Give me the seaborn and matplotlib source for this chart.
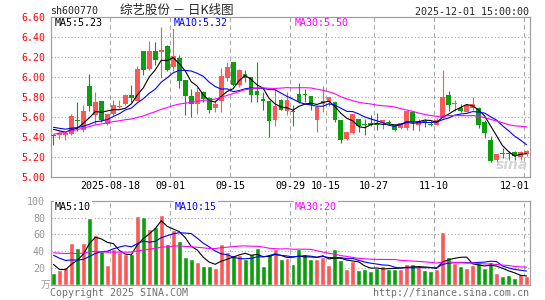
import numpy as np
import pandas as pd
import matplotlib
matplotlib.use("Agg")
import matplotlib.pyplot as plt
import seaborn as sns

# daily bars sh600770, 2025-08-04 .. 2025-12-01 (80 trading days)
open_ = [5.42, 5.42, 5.42, 5.43, 5.57, 5.47, 5.91, 5.62, 5.76, 5.53,
         5.63, 5.70, 5.73, 5.82, 5.76, 6.26, 6.08, 6.26, 6.25, 6.31,
         6.10, 6.19, 5.97, 5.81, 5.73, 5.85, 5.79, 5.69, 5.76, 5.99,
         6.15, 5.92, 6.03, 6.00, 5.86, 5.78, 5.76, 5.57, 5.77, 5.66,
         5.66, 5.83, 5.83, 5.81, 5.57, 5.73, 5.75, 5.75, 5.57, 5.38,
         5.44, 5.58, 5.53, 5.54, 5.53, 5.54, 5.55, 5.52, 5.49, 5.49,
         5.65, 5.52, 5.56, 5.53, 5.52, 5.59, 5.82, 5.73, 5.69, 5.65,
         5.69, 5.69, 5.55, 5.37, 5.17, 5.24, 5.24, 5.25, 5.20, 5.23]
high = [5.42, 5.46, 5.45, 5.63, 5.75, 5.72, 6.03, 5.85, 5.76, 5.64,
        5.77, 5.77, 5.83, 5.92, 6.11, 6.26, 6.36, 6.35, 6.50, 6.32,
        6.50, 6.22, 5.97, 5.88, 5.90, 5.86, 5.80, 5.77, 6.09, 6.15,
        6.15, 6.08, 6.07, 6.00, 6.15, 5.85, 5.76, 5.89, 5.78, 5.85,
        5.72, 5.94, 5.88, 5.81, 5.70, 5.91, 5.80, 5.75, 5.57, 5.45,
        5.63, 5.58, 5.58, 5.62, 5.64, 5.57, 5.57, 5.52, 5.54, 5.66,
        5.65, 5.58, 5.58, 5.56, 5.59, 6.07, 5.86, 5.77, 5.73, 5.72,
        5.80, 5.70, 5.57, 5.41, 5.23, 5.29, 5.26, 5.26, 5.26, 5.27]
low = [5.32, 5.38, 5.37, 5.42, 5.46, 5.45, 5.66, 5.53, 5.55, 5.52,
       5.62, 5.69, 5.72, 5.75, 5.76, 6.02, 6.07, 6.12, 5.99, 6.06,
       6.06, 5.89, 5.62, 5.60, 5.63, 5.75, 5.64, 5.65, 5.65, 5.96,
       5.91, 5.90, 5.95, 5.75, 5.75, 5.67, 5.40, 5.51, 5.67, 5.62,
       5.51, 5.74, 5.75, 5.67, 5.45, 5.65, 5.71, 5.55, 5.34, 5.37,
       5.43, 5.45, 5.42, 5.51, 5.47, 5.48, 5.53, 5.46, 5.48, 5.47,
       5.47, 5.46, 5.50, 5.51, 5.52, 5.59, 5.66, 5.66, 5.65, 5.65,
       5.67, 5.49, 5.39, 5.15, 5.12, 5.19, 5.17, 5.17, 5.17, 5.21]
close = [5.41, 5.44, 5.44, 5.61, 5.56, 5.66, 5.71, 5.75, 5.57, 5.63,
         5.72, 5.71, 5.82, 5.79, 6.08, 6.07, 6.26, 6.17, 6.27, 6.07,
         6.21, 5.96, 5.81, 5.73, 5.85, 5.78, 5.67, 5.73, 6.01, 6.10,
         5.92, 6.07, 5.99, 5.82, 5.82, 5.76, 5.56, 5.71, 5.67, 5.77,
         5.65, 5.75, 5.82, 5.72, 5.70, 5.76, 5.80, 5.57, 5.37, 5.45,
         5.63, 5.51, 5.52, 5.52, 5.52, 5.57, 5.54, 5.47, 5.54, 5.66,
         5.55, 5.56, 5.55, 5.52, 5.57, 5.80, 5.72, 5.74, 5.66, 5.72,
         5.73, 5.52, 5.44, 5.16, 5.23, 5.23, 5.23, 5.21, 5.25, 5.26]
volume = [14, 17, 21, 50, 44, 50, 80, 59, 40, 23,
          43, 39, 37, 36, 82, 81, 67, 69, 83, 48,
          65, 52, 33, 30, 27, 22, 22, 20, 48, 39,
          35, 35, 30, 36, 44, 22, 36, 42, 30, 32,
          24, 42, 37, 30, 30, 33, 23, 42, 29, 19,
          28, 17, 18, 16, 20, 22, 19, 19, 19, 24,
          24, 21, 17, 16, 19, 63, 33, 26, 22, 20,
          23, 26, 20, 27, 14, 10, 11, 8, 12, 10]

# sessions before the window (estimated), only used to seed the moving averages
prior_close = [5.12, 5.15, 5.18, 5.20, 5.22, 5.24, 5.26, 5.28, 5.31, 5.34,
               5.45, 5.52, 5.58, 5.62, 5.60, 5.57, 5.59, 5.56, 5.55, 5.58,
               5.54, 5.53, 5.51, 5.50, 5.52, 5.52, 5.50, 5.49, 5.48]
prior_volume = [30, 35, 42, 50, 38, 33, 45, 52, 40, 36,
                44, 38, 31, 42, 48, 39, 35, 41, 37, 34,
                52, 48, 44, 46, 40, 47, 22, 18, 19]

date_idx = [10, 20, 30, 40, 46, 54, 64, 79]
date_labels = ["2025-08-18", "09-01", "09-15", "09-29", "10-15", "10-27", "11-10", "12-01"]
price_ticks = [5.0, 5.2, 5.4, 5.6, 5.8, 6.0, 6.2, 6.4, 6.6]
vol_ticks = [20, 40, 60, 80, 100]
price_ma_text = ["MA5:5.23", "MA10:5.32", "MA30:5.50"]
vol_ma_text = ["MA5:10", "MA10:15", "MA30:20"]

RED = "#fc5858"
GREEN = "#0ba00b"
MA_COLORS = ["black", "#0000ff", "#ff00ff"]
GRID = "#a8a8a8"

df = pd.DataFrame({"open": open_, "high": high, "low": low,
                   "close": close, "volume": volume})
df["idx"] = np.arange(len(df))
df["dir"] = np.where(df["close"] >= df["open"], "up", "down")
all_close = pd.Series(prior_close + close)
all_vol = pd.Series(prior_volume + volume, dtype=float)
n0 = len(prior_close)
for n in (5, 10, 30):
    df[f"ma{n}"] = all_close.rolling(n).mean().iloc[n0:].values
    df[f"vma{n}"] = all_vol.rolling(n).mean().iloc[n0:].values

sns.set_style("white")
plt.rcParams["font.family"] = ["DejaVu Sans Mono", "Noto Sans CJK SC"]

W, H = 545, 300
fig = plt.figure(figsize=(W / 100, H / 100), dpi=100)
ax = fig.add_axes([50.5 / W, 1 - 177.3 / H, 479 / W, 160 / H])
axv = fig.add_axes([50.5 / W, 1 - 284.5 / H, 479 / W, 83.5 / H])

# candles
cols = np.where(df["dir"] == "up", RED, GREEN)
ax.vlines(df["idx"], df["low"], df["high"], colors=cols, lw=0.8, zorder=2)
body = np.maximum((df["close"] - df["open"]).abs(), 0.008)
ax.bar(df["idx"], body, bottom=np.minimum(df["open"], df["close"]),
       width=0.8, color=cols, linewidth=0, zorder=3)
for n, c in zip((5, 10, 30), MA_COLORS):
    sns.lineplot(data=df, x="idx", y=f"ma{n}", color=c, lw=0.8, ax=ax, zorder=4)

# volume
sns.barplot(data=df, x="idx", y="volume", hue="dir", palette={"up": RED, "down": GREEN},
            dodge=False, width=0.83, errorbar=None, legend=False, saturation=1,
            ax=axv, zorder=2)
for n, c in zip((5, 10, 30), MA_COLORS):
    sns.lineplot(data=df, x="idx", y=f"vma{n}", color=c, lw=0.8, ax=axv, zorder=4)

ax.set_ylim(5.0, 6.6)
axv.set_ylim(0, 100)
for a in (ax, axv):
    a.set_xlim(-0.5, len(df) - 0.5)
    a.set_xticks([])
    a.set_xlabel("")
    a.set_ylabel("")
    for s in a.spines.values():
        s.set_color("#a0a0a0")
        s.set_linewidth(0.9)
    for i in date_idx:
        a.axvline(i - 0.5, color=GRID, ls=(0, (4, 3)), lw=0.8, zorder=0)

for p in price_ticks[1:-1]:
    ax.axhline(p, color=GRID, ls=(0, (1, 2)), lw=0.8, zorder=0)
for v in vol_ticks[:-1]:
    axv.axhline(v, color=GRID, ls=(0, (1, 2)), lw=0.8, zorder=0)

ax.set_yticks(price_ticks)
ax.set_yticklabels([f"{p:.2f}" for p in price_ticks])
ax.tick_params(axis="y", length=0, pad=4, labelsize=7.2, labelcolor="#ff0000")
axv.set_yticks(vol_ticks)
axv.set_yticklabels([str(v) for v in vol_ticks])
axv.tick_params(axis="y", length=0, pad=4, labelsize=7.2, labelcolor="#999999")
axv.text(-0.5, 0, "万", transform=axv.transData, ha="right", va="center",
         fontsize=7, color="#999999", family=["Noto Sans CJK SC"],
         clip_on=False)

# date labels, the last one kept inside the frame
for i, lab in zip(date_idx, date_labels):
    last = i == date_idx[-1]
    ax.text(len(df) - 0.5 if last else i - 0.5, -0.055, lab,
            transform=ax.get_xaxis_transform(),
            ha="right" if last else "center", va="center", fontsize=7.2, color="black")


def px(x, y):
    return x / W, 1 - y / H


box = dict(facecolor="white", edgecolor="none", pad=0.6)
for x, t, c in zip((55, 174, 295), price_ma_text, MA_COLORS):
    fig.text(*px(x, 23.5), t, fontsize=7.2, color=c, va="center", bbox=box, zorder=10)
for x, t, c in zip((55, 175, 295), vol_ma_text, MA_COLORS):
    fig.text(*px(x, 206.5), t, fontsize=7.2, color=c, va="center", bbox=box, zorder=10)

fig.text(*px(50, 11), "sh600770", fontsize=7.2, va="center")
fig.text(*px(120, 10.5), "综艺股份 － 日K线图", fontsize=9, va="center",
         family=["Noto Sans CJK SC", "DejaVu Sans"])
fig.text(*px(529, 12), "2025-12-01 15:00:00", fontsize=7.2, ha="right", va="center")
fig.text(*px(50, 292.5), "Copyright 2025 SINA.COM", fontsize=7.2, color="#707070", va="center")
fig.text(*px(529, 292.5), "http://finance.sina.com.cn", fontsize=7.2, color="#707070",
         ha="right", va="center")
fig.text(*px(512, 165), "sina", fontsize=10, color="#d6d6d6", style="italic",
         weight="bold", ha="center", va="center", family=["DejaVu Sans"])

fig.savefig("out.png", dpi=100)
